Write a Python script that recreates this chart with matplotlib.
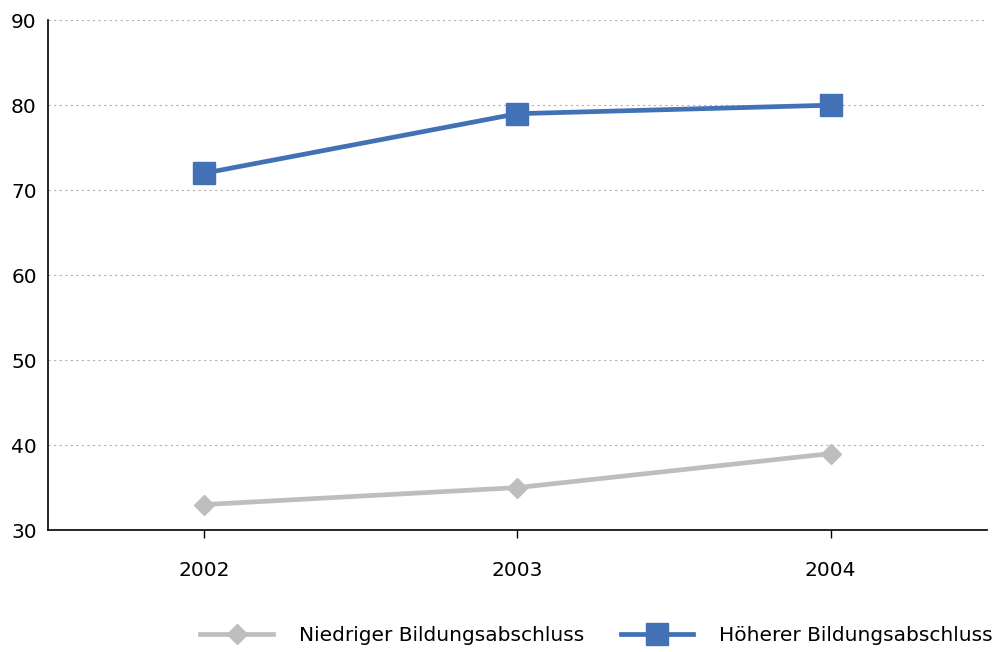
import matplotlib
matplotlib.use("Agg")
import matplotlib.pyplot as plt

# Daten
jahre = ["2002", "2003", "2004"]
niedrig = [33, 35, 39]
hoeher = [72, 79, 80]
y_ticks = [30, 40, 50, 60, 70, 80, 90]

grau = "#BEBEBE"
blau = "#4272B5"

plt.rcParams['font.family'] = ['DejaVu Sans']

fig = plt.figure(figsize=(9.98, 6.52), dpi=100)
ax = fig.add_axes([0.048, 0.187, 0.941, 0.782])

x = range(len(jahre))
ax.plot(x, niedrig, color=grau, lw=3.4, marker="D", markersize=10,
        label="Niedriger Bildungsabschluss", zorder=3)
ax.plot(x, hoeher, color=blau, lw=3.4, marker="s", markersize=16,
        label="Höherer Bildungsabschluss", zorder=3)

ax.set_xlim(-0.5, 2.5)
ax.set_ylim(30, 90)
ax.set_xticks(list(x))
ax.set_xticklabels(jahre)
ax.set_yticks(y_ticks)

# Gitterlinien (ohne 30, dort liegt die Achse)
for yv in y_ticks[1:]:
    ax.axhline(yv, color="#B0B0B0", lw=0.8, ls=(0, (2, 3)), zorder=1)

ax.spines["top"].set_visible(False)
ax.spines["right"].set_visible(False)
ax.spines["left"].set_linewidth(1.2)
ax.spines["bottom"].set_linewidth(1.2)
ax.tick_params(axis="y", length=0, pad=8, labelsize=14.5)
ax.tick_params(axis="x", length=6, width=1, pad=16, labelsize=14.5)

fig.legend(loc="center right", bbox_to_anchor=(1.013, 0.025), ncol=2,
           frameon=False, fontsize=14.5, handlelength=3.6,
           handletextpad=1.3, columnspacing=1.8)

fig.savefig("out.png", dpi=100)
